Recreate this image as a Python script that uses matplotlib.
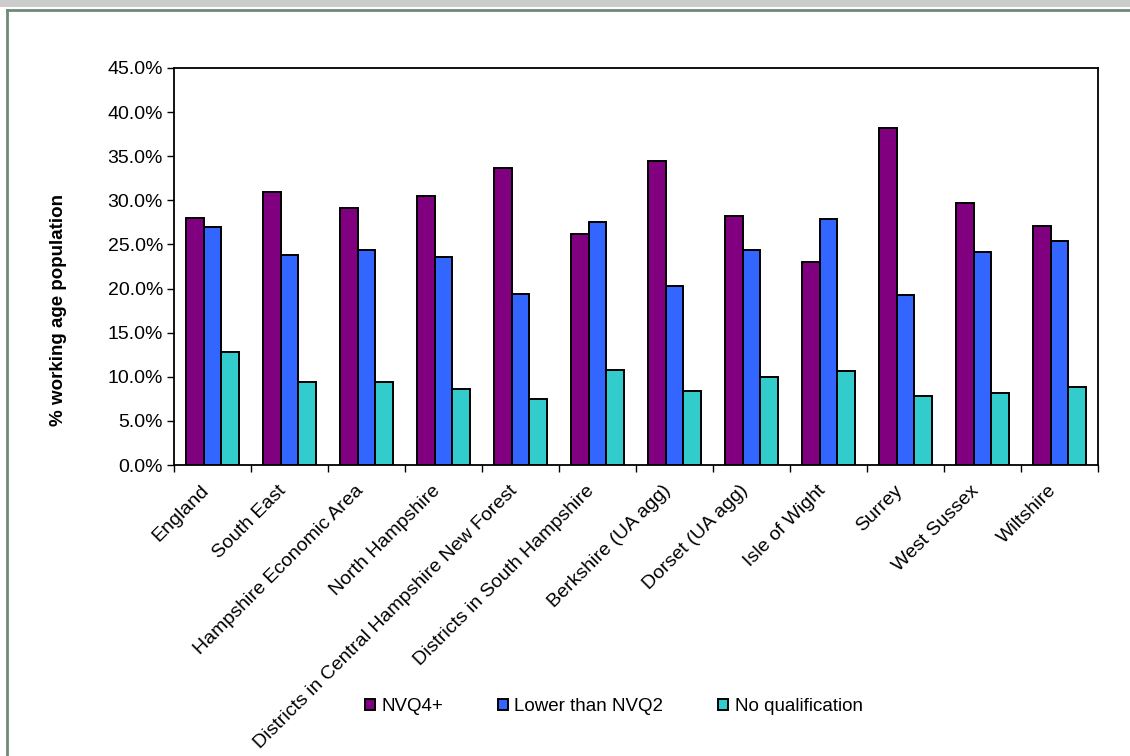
import numpy as np
import matplotlib.pyplot as plt
import matplotlib.transforms as mtransforms
from matplotlib.patches import Rectangle
from matplotlib.lines import Line2D
from matplotlib.ticker import FuncFormatter, FixedLocator

plt.rcParams['font.family'] = ['Liberation Sans', 'DejaVu Sans']

# qualification levels by area (% of working age population)
areas = ['England', 'South East', 'Hampshire Economic Area', 'North Hampshire',
         'Districts in Central Hampshire New Forest', 'Districts in South Hampshire',
         'Berkshire (UA agg)', 'Dorset (UA agg)', 'Isle of Wight', 'Surrey',
         'West Sussex', 'Wiltshire']
nvq4 = [28.0, 31.0, 29.1, 30.5, 33.7, 26.2, 34.5, 28.2, 23.0, 38.2, 29.7, 27.1]
below_nvq2 = [27.0, 23.8, 24.4, 23.6, 19.4, 27.6, 20.3, 24.4, 27.9, 19.3, 24.1, 25.4]
no_qual = [12.8, 9.4, 9.4, 8.6, 7.5, 10.8, 8.4, 10.0, 10.6, 7.8, 8.2, 8.8]

series = ['NVQ4+', 'Lower than NVQ2', 'No qualification']
colors = ['#800080', '#3366FF', '#33CCCC']

fig = plt.figure(figsize=(11.3, 7.56), dpi=100)

# header strip and outer border
fig.patches.append(Rectangle((0, 1 - 7 / 756), 1, 7 / 756, transform=fig.transFigure,
                             facecolor='#cccccc', edgecolor='none'))
fig.add_artist(Line2D([7 / 1130, 1], [1 - 10 / 756, 1 - 10 / 756], transform=fig.transFigure,
                      color='#6e8a78', lw=2))
fig.add_artist(Line2D([7 / 1130, 7 / 1130], [0, 1 - 10 / 756], transform=fig.transFigure,
                      color='#6e8a78', lw=2))

ax = fig.add_axes([174 / 1130, 1 - 465 / 756, (1098 - 174) / 1130, (465 - 68) / 756])

x = np.arange(len(areas))
w = 0.23
for i, (vals, name, c) in enumerate(zip([nvq4, below_nvq2, no_qual], series, colors)):
    ax.bar(x + (i - 1) * w, vals, w, color=c, edgecolor='black', linewidth=1.4, label=name)

ax.set_xlim(-0.5, len(areas) - 0.5)
ax.set_ylim(0, 45)
ax.set_yticks(np.arange(0, 46, 5))
ax.yaxis.set_major_formatter(FuncFormatter(lambda v, p: f'{v:.1f}%'))
ax.tick_params(axis='y', direction='out', length=5, width=1, labelsize=14, pad=3)

ax.set_xticks(x)
ax.set_xticklabels(areas, rotation=45, ha='right', rotation_mode='anchor', fontsize=14)
ax.tick_params(axis='x', which='major', length=0, pad=10)
ax.xaxis.set_minor_locator(FixedLocator(np.arange(-0.5, len(areas), 1)))
ax.tick_params(axis='x', which='minor', direction='out', length=5, width=1)
shift = mtransforms.ScaledTranslation(-0.12, -0.03, fig.dpi_scale_trans)
for lbl in ax.get_xticklabels():
    lbl.set_transform(lbl.get_transform() + shift)

for s in ax.spines.values():
    s.set_linewidth(1.3)

ax.set_ylabel('% working age population', fontsize=13.5, fontweight='bold')
ax.yaxis.set_label_coords(-0.116, 0.39)

handles, labels = ax.get_legend_handles_labels()
fig.legend(handles, labels, loc='center', bbox_to_anchor=(0.543, 0.065), ncol=3,
           frameon=False, fontsize=13.5, handlelength=0.55, handleheight=0.55,
           handletextpad=0.35, columnspacing=2.9)

fig.savefig('out.png', dpi=100)
